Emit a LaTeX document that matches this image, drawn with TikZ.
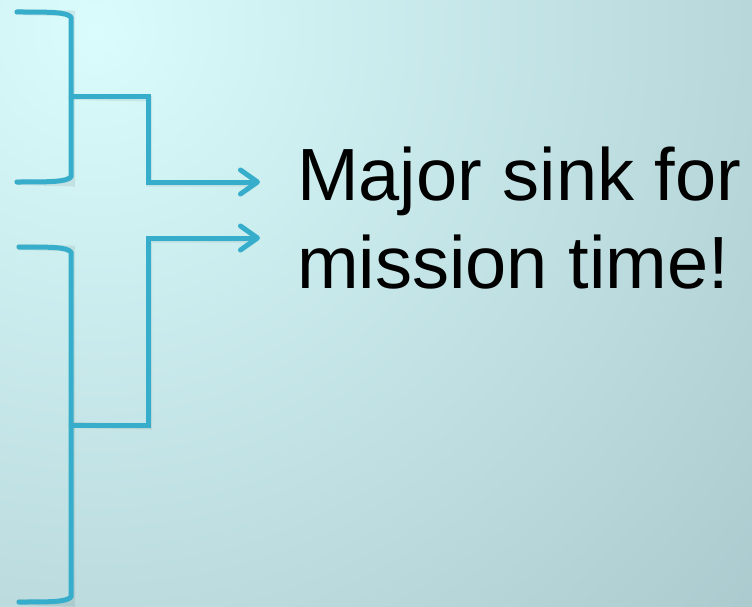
\documentclass[tikz,border=0pt]{standalone}
\usepackage{fontspec}
\setmainfont{Liberation Sans}
\usetikzlibrary{arrows.meta}
\definecolor{bgLight}{HTML}{DAFCFC}
\definecolor{bgDark}{HTML}{9AB8BE}
\definecolor{bracketBlue}{HTML}{36AECB}
\tikzset{
  bracketline/.style={draw=bracketBlue, line width=5pt, line cap=round, line join=round},
  linkline/.style={draw=bracketBlue, line width=5pt, line join=miter, line cap=butt},
  linkarrow/.style={linkline, -{Straight Barb[length=17pt,width=24pt,round]}},
  shadowline/.style={draw=black, draw opacity=0.07, line width=6pt, line cap=round},
  bigtext/.style={font=\fontsize{74}{88}\selectfont, align=left, inner sep=0pt, anchor=base west}
}
\begin{document}
\begin{tikzpicture}[x=1pt,y=-1pt]
  \useasboundingbox (0,0) rectangle (752,607);
  % background
  \begin{scope}
    \clip (0,0) rectangle (752,607);
    \shade[inner color=bgLight, outer color=bgDark] (95,30) circle (1200);
  \end{scope}

  % anchor points of the two brackets and the text
  \coordinate (b1top) at (17,12);
  \coordinate (b1bot) at (17,182);
  \coordinate (b1mid) at (71,97);
  \coordinate (b2top) at (19,247);
  \coordinate (b2bot) at (19,602);
  \coordinate (b2mid) at (71,425);

  \node[bigtext] (label) at (297,288) {Major sink for\\mission time!};
  \coordinate (in1) at (260,182);
  \coordinate (in2) at (260,238);

  % soft shadows
  \begin{scope}[shift={(1,1.5)}]
    \draw[shadowline] (b1top) -- (71,12) -- (71,182) -- (b1bot);
    \draw[shadowline] (b2top) -- (71,247) -- (71,602) -- (b2bot);
    \draw[shadowline] (b1mid) -- (148,97) -- (148,182) -- (250,182);
    \draw[shadowline] (b2mid) -- (148,425) -- (148,238) -- (250,238);
  \end{scope}

  % brackets
  \draw[bracketline] (b1top) .. controls (50,12) and (66,12) .. (71,17) -- (71,177) .. controls (66,182) and (50,182) .. (b1bot);
  \draw[bracketline] (b2top) .. controls (52,247) and (66,247) .. (71,252) -- (71,597) .. controls (66,602) and (52,602) .. (b2bot);

  % connectors to the text
  \draw[linkarrow] (b1mid) -- (148,97) -- (148,182) -- (in1);
  \draw[linkarrow] (b2mid) -- (148,425) -- (148,238) -- (in2);
\end{tikzpicture}
\end{document}
